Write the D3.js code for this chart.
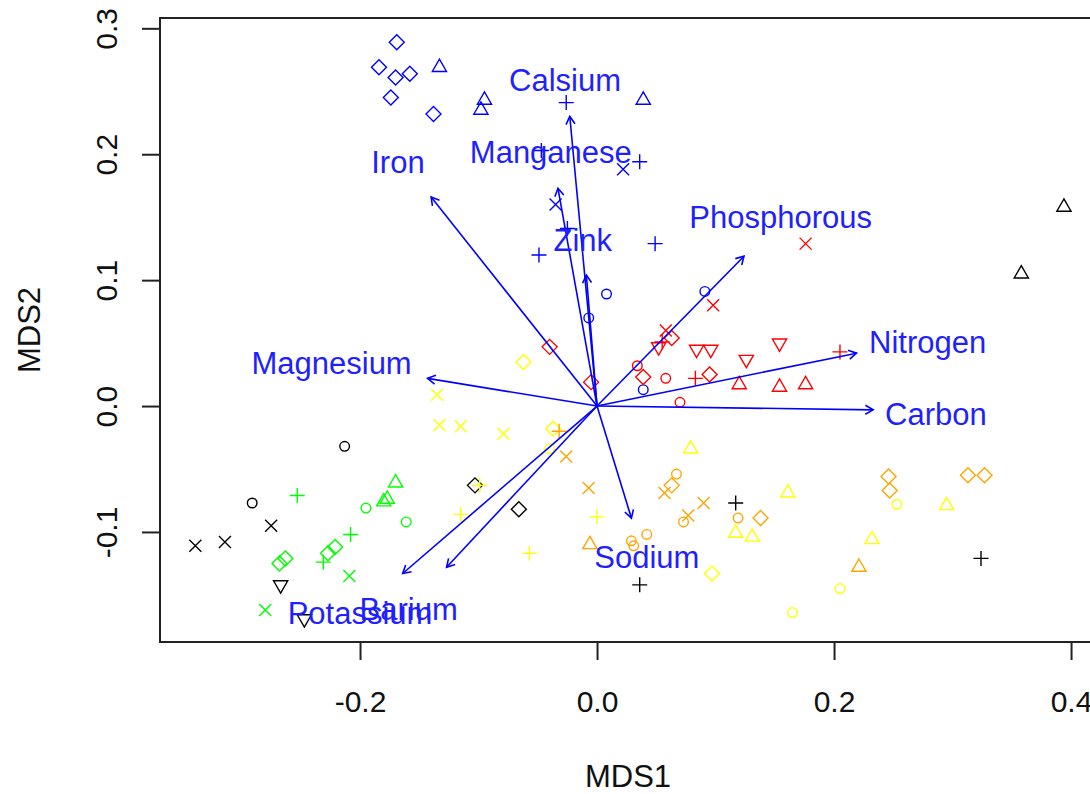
<!DOCTYPE html>
<html>
<head>
<meta charset="utf-8">
<script src="https://cdn.jsdelivr.net/npm/d3@7"></script>
<style>
body { margin: 0; background: #fff; }
svg { display: block; font-family: Arial, "Liberation Sans", sans-serif; }
</style>
</head>
<body>
<svg></svg>
<script>

// site scores, one list per group: [MDS1, MDS2, pch]
// pch as in R: 1 circle, 2 triangle up, 3 plus, 4 cross, 5 diamond, 6 triangle down
const groupA = [
    [-0.169, 0.289, 5], [-0.184, 0.269, 5], [-0.170, 0.261, 5], [-0.158, 0.264, 5], [-0.174, 0.245, 5], [-0.138, 0.232, 5],
    [-0.133, 0.269, 2], [-0.095, 0.243, 2], [-0.098, 0.235, 2], [0.039, 0.243, 2],
    [-0.026, 0.241, 3], [-0.047, 0.203, 3], [0.036, 0.194, 3], [0.022, 0.188, 4], [-0.035, 0.160, 4],
    [-0.025, 0.141, 3], [-0.049, 0.120, 3], [0.049, 0.129, 3],
    [0.008, 0.089, 1], [0.091, 0.091, 1], [-0.007, 0.070, 1], [0.039, 0.013, 1]
]
const groupB = [
    [-0.040, 0.047, 5], [0.058, 0.060, 4], [0.063, 0.054, 5], [0.055, 0.051, 3], [0.052, 0.047, 6],
    [0.084, 0.045, 6], [0.096, 0.045, 6], [0.126, 0.037, 6], [0.154, 0.050, 6],
    [0.034, 0.032, 1], [0.039, 0.023, 5], [0.058, 0.022, 1], [0.083, 0.022, 3], [0.095, 0.025, 5],
    [-0.005, 0.019, 5], [0.070, 0.003, 1],
    [0.120, 0.017, 2], [0.154, 0.015, 2], [0.176, 0.017, 2], [0.205, 0.043, 3], [0.176, 0.129, 4], [0.098, 0.080, 4]
]
const groupC = [
    [0.394, 0.158, 2], [0.358, 0.105, 2], [-0.213, -0.032, 1], [-0.291, -0.077, 1],
    [-0.275, -0.095, 4], [-0.314, -0.108, 4], [-0.339, -0.111, 4], [-0.267, -0.142, 6], [-0.247, -0.169, 6],
    [-0.103, -0.063, 5], [-0.066, -0.082, 5], [0.117, -0.077, 3], [0.036, -0.142, 3], [0.324, -0.121, 3]
]
const groupD = [
    [-0.253, -0.071, 3], [-0.170, -0.061, 2], [-0.180, -0.076, 2], [-0.177, -0.074, 2], [-0.195, -0.081, 1],
    [-0.161, -0.092, 1], [-0.208, -0.102, 3], [-0.221, -0.112, 5], [-0.227, -0.117, 5], [-0.231, -0.124, 3],
    [-0.209, -0.135, 4], [-0.268, -0.125, 5], [-0.263, -0.121, 5], [-0.280, -0.162, 4]
]
const groupE = [
    [-0.062, 0.035, 5], [-0.135, 0.009, 4], [-0.133, -0.015, 4], [-0.115, -0.016, 4], [-0.079, -0.022, 4],
    [-0.037, -0.018, 5], [-0.040, -0.034, 1], [-0.099, -0.063, 3], [-0.115, -0.086, 3], [-0.057, -0.117, 3],
    [0.000, -0.088, 3], [0.079, -0.034, 2], [0.097, -0.133, 5], [0.117, -0.101, 2], [0.131, -0.104, 2],
    [0.161, -0.069, 2], [0.232, -0.106, 2], [0.253, -0.078, 1], [0.295, -0.079, 2], [0.205, -0.145, 1], [0.165, -0.164, 1]
]
const groupF = [
    [-0.032, -0.020, 3], [-0.026, -0.040, 4], [-0.007, -0.065, 4], [0.067, -0.054, 1], [0.063, -0.063, 5],
    [0.057, -0.069, 4], [0.090, -0.077, 4], [0.077, -0.087, 4], [0.073, -0.092, 1], [0.119, -0.089, 1],
    [0.138, -0.089, 5], [0.042, -0.102, 1], [0.029, -0.107, 1], [0.031, -0.111, 1], [-0.006, -0.110, 2],
    [0.246, -0.056, 5], [0.247, -0.067, 5], [0.313, -0.055, 5], [0.327, -0.055, 5], [0.221, -0.128, 2]
]

// fitted environmental vectors
const vectorNames = ["Calsium", "Manganese", "Zink", "Iron", "Phosphorous", "Magnesium", "Nitrogen", "Carbon", "Sodium", "Barium", "Potassium"]
const vectorMDS1 = [-0.023, -0.033, -0.009, -0.140, 0.124, -0.143, 0.219, 0.233, 0.029, -0.127, -0.164]
const vectorMDS2 = [0.230, 0.173, 0.104, 0.166, 0.119, 0.022, 0.042, -0.003, -0.089, -0.128, -0.133]
const labelMDS1 = [-0.027, -0.039, -0.012, -0.168, 0.155, -0.224, 0.279, 0.286, 0.042, -0.159, -0.200]
const labelMDS2 = [0.259, 0.202, 0.132, 0.194, 0.150, 0.034, 0.051, -0.006, -0.120, -0.161, -0.164]

const xTicks = [-0.2, 0.0, 0.2, 0.4]
const yTicks = [-0.1, 0.0, 0.1, 0.2, 0.3]

const groups = [
    { pts: groupA, color: "#0000ff" },
    { pts: groupB, color: "#ff0000" },
    { pts: groupC, color: "#000000" },
    { pts: groupD, color: "#00ff00" },
    { pts: groupE, color: "#ffff00" },
    { pts: groupF, color: "#ffa500" }
]

const svg = d3.select("svg")
    .attr("width", 1090)
    .attr("height", 794)

const x = d3.scaleLinear()
    .domain([-0.3688, 0.4219])
    .range([160, 1097])

const y = d3.scaleLinear()
    .domain([-0.1874, 0.3082])
    .range([642, 18])

// plot symbols, roughly R's cex = 1
const symbolPath = function(pch) {
    const r = 8.2, xc = 7.1, yc = 4.1, h = 7.5, c = 6, d = 7.5
    if (pch === 2) return `M0,${-r}L${xc},${yc}L${-xc},${yc}Z`
    if (pch === 6) return `M0,${r}L${xc},${-yc}L${-xc},${-yc}Z`
    if (pch === 3) return `M${-h},0H${h}M0,${-h}V${h}`
    if (pch === 4) return `M${-c},${-c}L${c},${c}M${-c},${c}L${c},${-c}`
    if (pch === 5) return `M0,${-d}L${d},0L0,${d}L${-d},0Z`
    return null
}

const pointsGroup = svg.append("g")

groups.forEach(function(g) {
    g.pts.forEach(function(p) {
        const px = x(p[0]), py = y(p[1])
        if (p[2] === 1) {
            pointsGroup.append("circle")
                .attr("cx", px).attr("cy", py).attr("r", 4.8)
                .attr("fill", "none").attr("stroke", g.color).attr("stroke-width", 1.4)
        } else {
            pointsGroup.append("path")
                .attr("d", symbolPath(p[2]))
                .attr("transform", `translate(${px},${py})`)
                .attr("fill", "none").attr("stroke", g.color).attr("stroke-width", 1.4)
        }
    })
})

// envfit arrows
const arrowGroup = svg.append("g")
    .attr("stroke", "#0000ff")
    .attr("stroke-width", 1.6)
    .attr("fill", "none")

vectorNames.forEach(function(name, i) {
    const x0 = x(0), y0 = y(0)
    const x1 = x(vectorMDS1[i]), y1 = y(vectorMDS2[i])
    const ang = Math.atan2(y1 - y0, x1 - x0)
    const len = 9, spread = Math.PI / 6
    arrowGroup.append("line")
        .attr("x1", x0).attr("y1", y0).attr("x2", x1).attr("y2", y1)
    arrowGroup.append("path")
        .attr("d", `M${x1 - len * Math.cos(ang - spread)},${y1 - len * Math.sin(ang - spread)}` +
            `L${x1},${y1}` +
            `L${x1 - len * Math.cos(ang + spread)},${y1 - len * Math.sin(ang + spread)}`)
})

svg.append("g")
    .selectAll("text")
    .data(vectorNames)
    .join("text")
    .attr("x", (d, i) => x(labelMDS1[i]))
    .attr("y", (d, i) => y(labelMDS2[i]))
    .attr("dy", "0.36em")
    .attr("text-anchor", "middle")
    .attr("font-size", 31)
    .attr("fill", "#1f1fff")
    .text(d => d)

// box
svg.append("rect")
    .attr("x", 160).attr("y", 18)
    .attr("width", 937).attr("height", 624)
    .attr("fill", "none")
    .attr("stroke", "#222")
    .attr("stroke-width", 2)

// axes
const xAxis = svg.append("g")
    .attr("transform", "translate(0,642)")
    .call(d3.axisBottom(x).tickValues(xTicks).tickSize(18).tickSizeOuter(0).tickFormat(d => d.toFixed(1)))

const yAxis = svg.append("g")
    .attr("transform", "translate(160,0)")
    .call(d3.axisLeft(y).tickValues(yTicks).tickSize(18).tickSizeOuter(0).tickFormat(d => d.toFixed(1)))

xAxis.select(".domain").remove()
yAxis.select(".domain").remove()

svg.selectAll(".tick line")
    .attr("stroke", "#222")
    .attr("stroke-width", 2)

xAxis.selectAll("text")
    .attr("y", 70)
    .attr("dy", null)
    .attr("font-size", 30)
    .attr("font-family", "Arial, 'Liberation Sans', sans-serif")
    .attr("fill", "#111")

yAxis.selectAll("text")
    .attr("x", null)
    .attr("dy", null)
    .attr("transform", "translate(-43,0) rotate(-90)")
    .attr("text-anchor", "middle")
    .attr("font-size", 30)
    .attr("font-family", "Arial, 'Liberation Sans', sans-serif")
    .attr("fill", "#111")

svg.append("text")
    .attr("x", 628)
    .attr("y", 787)
    .attr("text-anchor", "middle")
    .attr("font-size", 31)
    .attr("fill", "#111")
    .text("MDS1")

svg.append("text")
    .attr("transform", "translate(40,330) rotate(-90)")
    .attr("text-anchor", "middle")
    .attr("font-size", 31)
    .attr("fill", "#111")
    .text("MDS2")

</script>
</body>
</html>
